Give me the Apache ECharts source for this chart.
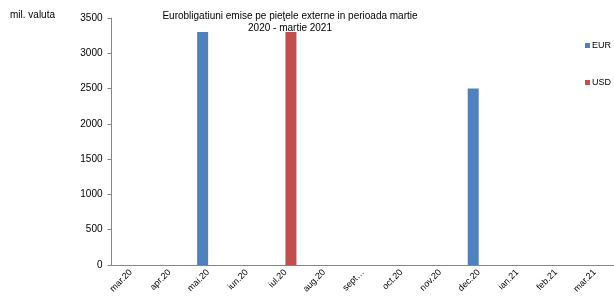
<!DOCTYPE html>
<html>
<head>
<meta charset="utf-8">
<script src="https://cdn.jsdelivr.net/npm/echarts@6/dist/echarts.min.js"></script>
<style>
  html, body { margin: 0; padding: 0; background: #fff; }
  #chart { width: 614px; height: 296px; }
</style>
</head>
<body>
<div id="chart"></div>
<script>
// luni (axa X)
var months = ['mar.20', 'apr.20', 'mai.20', 'iun.20', 'iul.20', 'aug.20', 'sept…',
              'oct.20', 'nov.20', 'dec.20', 'ian.21', 'feb.21', 'mar.21'];
// emisiuni, mil. valuta
var eurValues = [0, 0, 3300, 0, 0, 0, 0, 0, 0, 2500, 0, 0, 0];
var usdValues = [0, 0, 0, 0, 3300, 0, 0, 0, 0, 0, 0, 0, 0];
var yTicks = [0, 500, 1000, 1500, 2000, 2500, 3000, 3500];

var font = 'Liberation Sans, Arial, sans-serif';

var option = {
    animation: false,
    backgroundColor: '#fff',
    title: {
        text: 'Eurobligatiuni emise pe pieţele externe in perioada martie\n2020 - martie 2021',
        left: 285,
        top: 5,
        textAlign: 'center',
        textStyle: { fontFamily: font, fontSize: 10, fontWeight: 'normal', color: '#000', lineHeight: 12 }
    },
    graphic: [{
        type: 'text',
        left: 10,
        top: 10,
        style: { text: 'mil. valuta', font: '10px ' + font, fill: '#000' }
    }],
    legend: {
        orient: 'vertical',
        left: 580,
        top: 36,
        itemWidth: 5,
        itemHeight: 5,
        itemGap: 28,
        icon: 'rect',
        textStyle: { fontFamily: font, fontSize: 9, color: '#000', padding: [0, 0, 0, -3] },
        data: ['EUR', 'USD']
    },
    grid: { left: 111.5, right: -8.5, top: 18, bottom: 31 },
    xAxis: {
        type: 'category',
        data: months,
        axisLine: { lineStyle: { color: '#868686', width: 1 } },
        axisTick: { interval: 0, length: 4, lineStyle: { color: '#868686' } },
        axisLabel: { interval: 0, rotate: 45, fontFamily: font, fontSize: 9, color: '#000', margin: 6 }
    },
    yAxis: {
        type: 'value',
        min: yTicks[0],
        max: yTicks[yTicks.length - 1],
        interval: 500,
        splitLine: { show: false },
        axisLine: { show: true, lineStyle: { color: '#868686', width: 1 } },
        axisTick: { show: true, length: 4, lineStyle: { color: '#868686' } },
        axisLabel: { fontFamily: font, fontSize: 10, color: '#000', margin: 9,
                     formatter: function (v) { return String(v); } }
    },
    series: [
        { name: 'EUR', type: 'bar', data: eurValues, barWidth: 11, barGap: '0%',
          itemStyle: { color: '#4f81bd' } },
        { name: 'USD', type: 'bar', data: usdValues, barWidth: 11, barGap: '0%',
          itemStyle: { color: '#c0504d' } }
    ]
};

var myChart = echarts.init(document.getElementById('chart'));
myChart.setOption(option);
</script>
</body>
</html>
